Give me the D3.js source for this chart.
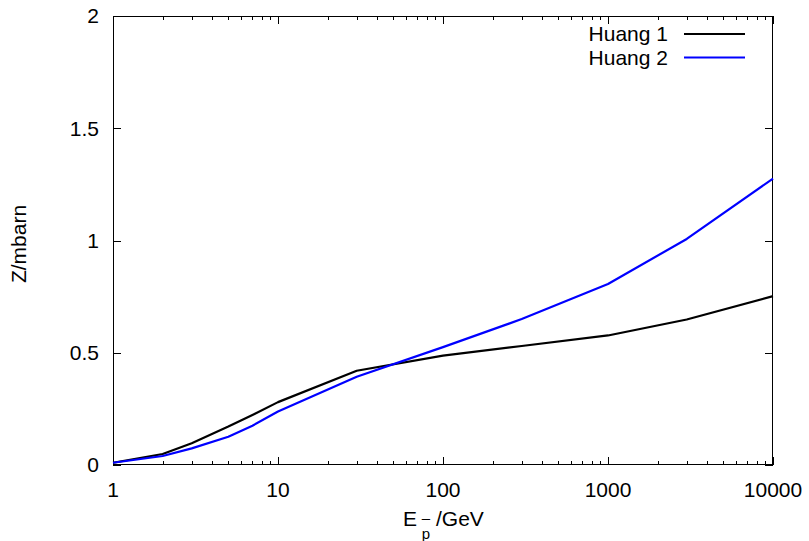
<!DOCTYPE html>
<html><head><meta charset="utf-8">
<script src="https://cdn.jsdelivr.net/npm/d3@7"></script>
<style>body{margin:0;background:#fff}svg{display:block}text{font-family:"Liberation Sans",Arial,sans-serif;fill:#000}</style>
</head><body><svg id="c" width="809" height="541"></svg>
<script>
const energies = [1, 2, 3, 5, 7, 10, 30, 100, 300, 1000, 3000, 10000];
const huang1 = [0.01, 0.049, 0.097, 0.171, 0.223, 0.28, 0.42, 0.487, 0.53, 0.577, 0.648, 0.752];
const huang2 = [0.01, 0.04, 0.074, 0.126, 0.175, 0.238, 0.393, 0.525, 0.65, 0.806, 1.007, 1.276];
const seriesNames = ["Huang 1", "Huang 2"];
const seriesColors = ["#000000", "#0000ff"];
const xTicks = [1, 10, 100, 1000, 10000];
const yTicks = [0, 0.5, 1, 1.5, 2];
const yTickLabels = ["0", "0.5", "1", "1.5", "2"];

const L = 113, R = 773, T = 16, B = 465;
const svg = d3.select("#c");
const x = d3.scaleLog().domain([1, 10000]).range([L, R]);
const y = d3.scaleLinear().domain([0, 2]).range([B, T]);

// minor ticks
const minor = [];
for (let d = 1; d < 10000; d *= 10) for (let k = 2; k <= 9; k++) minor.push(d * k);

const g = svg.append("g");
const tick = (x1, y1, x2, y2) => g.append("line").attr("x1", x1).attr("y1", y1).attr("x2", x2).attr("y2", y2).attr("stroke", "#000").attr("stroke-width", 1);

minor.forEach(v => { const px = Math.round(x(v)) + 0.5; tick(px, B, px, B - 4); tick(px, T, px, T + 4); });
xTicks.forEach(v => { const px = Math.round(x(v)) + 0.5; tick(px, B, px, B - 8); tick(px, T, px, T + 8); });
yTicks.forEach(v => { const py = Math.round(y(v)) + 0.5; tick(L, py, L + 8, py); tick(R, py, R - 8, py); });

g.append("rect").attr("x", L + 0.5).attr("y", T + 0.5).attr("width", R - L - 1).attr("height", B - T - 1)
  .attr("fill", "none").attr("stroke", "#000").attr("stroke-width", 1);

xTicks.forEach(v => g.append("text").attr("x", x(v)).attr("y", 497).attr("text-anchor", "middle").attr("font-size", 21).text(d3.format("d")(v)));
yTicks.forEach((v, i) => g.append("text").attr("x", 99).attr("y", y(v)).attr("dy", "0.35em").attr("text-anchor", "end").attr("font-size", 21).text(yTickLabels[i]));

// axis titles
g.append("text").attr("transform", "translate(26,244) rotate(-90)").attr("text-anchor", "middle").attr("font-size", 21).text("Z/mbarn");
g.append("text").attr("x", 403).attr("y", 526).attr("font-size", 21).text("E");
g.append("text").attr("x", 426).attr("y", 539).attr("text-anchor", "middle").attr("font-size", 15).text("p");
g.append("text").attr("x", 426).attr("y", 523).attr("text-anchor", "middle").attr("font-size", 15).text("–");
g.append("text").attr("x", 436).attr("y", 526).attr("font-size", 21).text("/GeV");

const line = d3.line().x(d => x(d[0])).y(d => y(d[1]));
[huang1, huang2].forEach((s, i) => {
  svg.append("path").datum(energies.map((e, j) => [e, s[j]])).attr("d", line)
    .attr("fill", "none").attr("stroke", seriesColors[i]).attr("stroke-width", 2.2).attr("stroke-linejoin", "round");
});

// legend
seriesNames.forEach((n, i) => {
  const ly = 34 + i * 23.5;
  svg.append("text").attr("x", 668).attr("y", ly).attr("dy", "0.35em").attr("text-anchor", "end").attr("font-size", 21).text(n);
  svg.append("line").attr("x1", 684).attr("x2", 745).attr("y1", ly).attr("y2", ly).attr("stroke", seriesColors[i]).attr("stroke-width", 2.2);
});
</script></body></html>
